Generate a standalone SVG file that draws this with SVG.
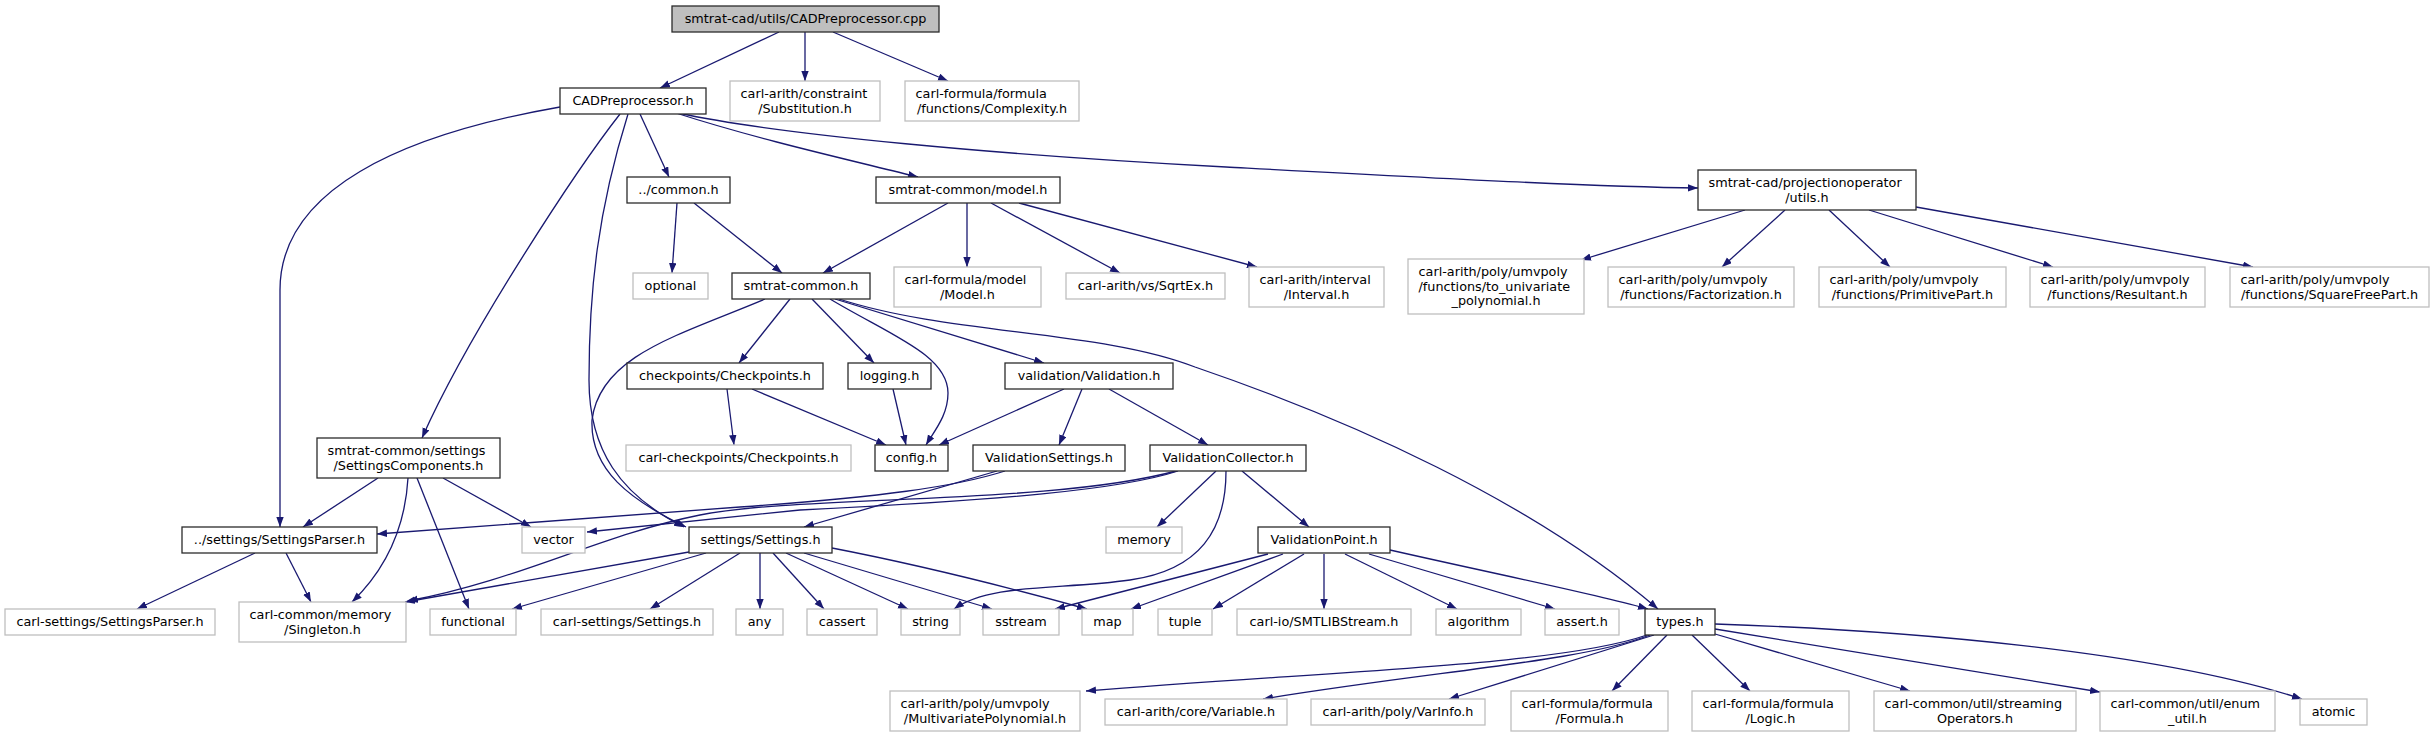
<svg xmlns="http://www.w3.org/2000/svg" width="2435" height="737" viewBox="0 0 2435 737">
<defs>
<style>
rect{fill:#fff;stroke-width:1.3}
.k rect{stroke:#2b2b2b}
.g rect{stroke:#bfbfbf}
.r rect{fill:#bfbfbf;stroke:#2b2b2b}
text{font-family:"DejaVu Sans","Liberation Sans",sans-serif;font-size:12.8px;fill:#000}
.c{text-anchor:middle}
.l{text-anchor:start}
#edges path{fill:none;stroke:#191970;stroke-width:1.3;marker-end:url(#ah)}
</style>
<marker id="ah" markerUnits="userSpaceOnUse" markerWidth="12" markerHeight="9" refX="10" refY="3.7" orient="auto">
<path d="M0,0 L10,3.7 L0,7.4 z" fill="#191970"/>
</marker>
</defs>
<rect x="0" y="0" width="2435" height="737" style="fill:#fff;stroke:none"/>

<g id="edges">
<path d="M779,32 L660,88"/>
<path d="M805,32 L805,81"/>
<path d="M833,32 L948,81"/>
<path d="M560,107 C400,135 280,190 280,290 L280,527"/>
<path d="M620,114 C580,165 470,330 422,438"/>
<path d="M628,114 C598,210 589,290 589,380 C589,450 620,495 684,527"/>
<path d="M640,114 L669,177"/>
<path d="M676,113 C760,140 850,160 918,177"/>
<path d="M678,113 C780,135 1000,155 1226,167 S1600,187 1698,188"/>
<path d="M677,203 L672,273"/>
<path d="M694,203 L782,273"/>
<path d="M948,203 L823,273"/>
<path d="M967,203 L967,267"/>
<path d="M991,203 L1120,273"/>
<path d="M1019,203 L1257,267"/>
<path d="M1745,210 L1581,260"/>
<path d="M1785,210 L1722,267"/>
<path d="M1829,210 L1890,267"/>
<path d="M1869,210 L2053,267"/>
<path d="M1916,207 L2253,267"/>
<path d="M765,299 C680,335 600,355 592,420 C590,470 630,500 686,527"/>
<path d="M790,299 L739,363"/>
<path d="M812,299 L874,363"/>
<path d="M830,299 C890,335 948,355 948,393 C948,415 935,430 926,445"/>
<path d="M835,299 L1044,363"/>
<path d="M839,299 C950,335 1100,330 1195,367 C1350,420 1530,500 1658,609"/>
<path d="M727,389 L734,445"/>
<path d="M752,389 L886,445"/>
<path d="M893,389 L906,445"/>
<path d="M1064,389 L939,445"/>
<path d="M1082,389 L1059,445"/>
<path d="M1109,389 L1208,445"/>
<path d="M378,478 L303,527"/>
<path d="M408,478 C405,530 385,570 352,602"/>
<path d="M417,478 L469,609"/>
<path d="M443,478 L531,527"/>
<path d="M255,553 L137,609"/>
<path d="M286,553 L311,602"/>
<path d="M1005,471 C955,487 880,497 740,507 L377,534"/>
<path d="M997,471 L804,527"/>
<path d="M1178,471 C1120,490 1000,500 800,510 L587,532"/>
<path d="M1176,471 C1050,505 800,495 700,515 C600,535 520,580 408,601"/>
<path d="M1216,471 L1157,527"/>
<path d="M1242,471 L1309,527"/>
<path d="M1226,471 C1226,530 1200,570 1130,580 C1060,590 990,583 954,609"/>
<path d="M689,552 L405,602"/>
<path d="M706,553 L512,609"/>
<path d="M740,553 L650,609"/>
<path d="M760,553 L760,609"/>
<path d="M773,553 L824,609"/>
<path d="M786,553 L908,609"/>
<path d="M804,553 L992,609"/>
<path d="M832,548 C920,565 1000,585 1087,609"/>
<path d="M1268,554 L1055,609"/>
<path d="M1283,554 L1131,609"/>
<path d="M1304,554 L1213,609"/>
<path d="M1324,554 L1324,609"/>
<path d="M1345,554 L1457,609"/>
<path d="M1369,554 L1555,609"/>
<path d="M1390,550 C1500,575 1600,595 1648,609"/>
<path d="M1715,624 C1900,630 2150,650 2302,699"/>
<path d="M1715,629 L2100,692"/>
<path d="M1715,634 L1910,691"/>
<path d="M1692,635 L1750,691"/>
<path d="M1667,635 L1612,691"/>
<path d="M1654,635 L1449,699"/>
<path d="M1650,635 C1580,662 1440,670 1263,699"/>
<path d="M1647,635 C1560,665 1350,670 1086,691"/>
</g>

<g id="n-root" class="r"><rect x="672" y="6" width="267" height="26"/><text class="c" x="805.5" y="23.3">smtrat-cad/utils/CADPreprocessor.cpp</text></g>
<g id="n-cadpreprocessor" class="k"><rect x="560" y="88" width="146" height="26"/><text class="c" x="633" y="105.3">CADPreprocessor.h</text></g>
<g id="n-substitution" class="g"><rect x="730" y="81" width="150" height="40"/><text class="l" x="740.5" y="98">carl-arith/constraint</text><text class="c" x="805" y="112.5">/Substitution.h</text></g>
<g id="n-complexity" class="g"><rect x="905" y="81" width="174" height="40"/><text class="l" x="915.5" y="98">carl-formula/formula</text><text class="c" x="992" y="112.5">/functions/Complexity.h</text></g>
<g id="n-common" class="k"><rect x="627" y="177" width="103" height="26"/><text class="c" x="678.5" y="194.3">../common.h</text></g>
<g id="n-model" class="k"><rect x="876" y="177" width="184" height="26"/><text class="c" x="968" y="194.3">smtrat-common/model.h</text></g>
<g id="n-projutils" class="k"><rect x="1698" y="170" width="218" height="40"/><text class="l" x="1708.5" y="187">smtrat-cad/projectionoperator</text><text class="c" x="1807" y="201.5">/utils.h</text></g>
<g id="n-optional" class="g"><rect x="633" y="273" width="75" height="26"/><text class="c" x="670.5" y="290.3">optional</text></g>
<g id="n-smtratcommon" class="k"><rect x="732" y="273" width="138" height="26"/><text class="c" x="801" y="290.3">smtrat-common.h</text></g>
<g id="n-modelh" class="g"><rect x="894" y="267" width="147" height="40"/><text class="l" x="904.5" y="284">carl-formula/model</text><text class="c" x="967.5" y="298.5">/Model.h</text></g>
<g id="n-sqrtex" class="g"><rect x="1066" y="273" width="159" height="26"/><text class="c" x="1145.5" y="290.3">carl-arith/vs/SqrtEx.h</text></g>
<g id="n-interval" class="g"><rect x="1249" y="267" width="135" height="40"/><text class="l" x="1259.5" y="284">carl-arith/interval</text><text class="c" x="1316.5" y="298.5">/Interval.h</text></g>
<g id="n-touniv" class="g"><rect x="1408" y="259" width="176" height="55"/><text class="l" x="1418.5" y="276.3">carl-arith/poly/umvpoly</text><text class="l" x="1418.5" y="290.8">/functions/to_univariate</text><text class="c" x="1496" y="305.3">_polynomial.h</text></g>
<g id="n-factorization" class="g"><rect x="1608" y="267" width="186" height="40"/><text class="l" x="1618.5" y="284">carl-arith/poly/umvpoly</text><text class="c" x="1701" y="298.5">/functions/Factorization.h</text></g>
<g id="n-primitivepart" class="g"><rect x="1819" y="267" width="187" height="40"/><text class="l" x="1829.5" y="284">carl-arith/poly/umvpoly</text><text class="c" x="1912.5" y="298.5">/functions/PrimitivePart.h</text></g>
<g id="n-resultant" class="g"><rect x="2030" y="267" width="175" height="40"/><text class="l" x="2040.5" y="284">carl-arith/poly/umvpoly</text><text class="c" x="2117.5" y="298.5">/functions/Resultant.h</text></g>
<g id="n-squarefree" class="g"><rect x="2230" y="267" width="199" height="40"/><text class="l" x="2240.5" y="284">carl-arith/poly/umvpoly</text><text class="c" x="2329.5" y="298.5">/functions/SquareFreePart.h</text></g>
<g id="n-checkpoints" class="k"><rect x="627" y="363" width="196" height="26"/><text class="c" x="725" y="380.3">checkpoints/Checkpoints.h</text></g>
<g id="n-logging" class="k"><rect x="848" y="363" width="83" height="26"/><text class="c" x="889.5" y="380.3">logging.h</text></g>
<g id="n-validation" class="k"><rect x="1005" y="363" width="168" height="26"/><text class="c" x="1089" y="380.3">validation/Validation.h</text></g>
<g id="n-settingscomponents" class="k"><rect x="317" y="438" width="183" height="40"/><text class="l" x="327.5" y="455">smtrat-common/settings</text><text class="c" x="408.5" y="469.5">/SettingsComponents.h</text></g>
<g id="n-carlcheckpoints" class="g"><rect x="626" y="445" width="225" height="26"/><text class="c" x="738.5" y="462.3">carl-checkpoints/Checkpoints.h</text></g>
<g id="n-config" class="k"><rect x="875" y="445" width="73" height="26"/><text class="c" x="911.5" y="462.3">config.h</text></g>
<g id="n-validationsettings" class="k"><rect x="973" y="445" width="152" height="26"/><text class="c" x="1049" y="462.3">ValidationSettings.h</text></g>
<g id="n-validationcollector" class="k"><rect x="1150" y="445" width="156" height="26"/><text class="c" x="1228" y="462.3">ValidationCollector.h</text></g>
<g id="n-settingsparser" class="k"><rect x="182" y="527" width="195" height="26"/><text class="c" x="279.5" y="544.3">../settings/SettingsParser.h</text></g>
<g id="n-vector" class="g"><rect x="522" y="527" width="63" height="26"/><text class="c" x="553.5" y="544.3">vector</text></g>
<g id="n-settings" class="k"><rect x="689" y="527" width="143" height="26"/><text class="c" x="760.5" y="544.3">settings/Settings.h</text></g>
<g id="n-memory" class="g"><rect x="1106" y="527" width="76" height="26"/><text class="c" x="1144" y="544.3">memory</text></g>
<g id="n-validationpoint" class="k"><rect x="1258" y="527" width="132" height="26"/><text class="c" x="1324" y="544.3">ValidationPoint.h</text></g>
<g id="n-carlsettingsparser" class="g"><rect x="5" y="609" width="210" height="26"/><text class="c" x="110" y="626.3">carl-settings/SettingsParser.h</text></g>
<g id="n-singleton" class="g"><rect x="239" y="602" width="167" height="40"/><text class="l" x="249.5" y="619">carl-common/memory</text><text class="c" x="322.5" y="633.5">/Singleton.h</text></g>
<g id="n-functional" class="g"><rect x="430" y="609" width="86" height="26"/><text class="c" x="473" y="626.3">functional</text></g>
<g id="n-carlsettings" class="g"><rect x="541" y="609" width="172" height="26"/><text class="c" x="627" y="626.3">carl-settings/Settings.h</text></g>
<g id="n-any" class="g"><rect x="736" y="609" width="47" height="26"/><text class="c" x="759.5" y="626.3">any</text></g>
<g id="n-cassert" class="g"><rect x="807" y="609" width="70" height="26"/><text class="c" x="842" y="626.3">cassert</text></g>
<g id="n-string" class="g"><rect x="901" y="609" width="59" height="26"/><text class="c" x="930.5" y="626.3">string</text></g>
<g id="n-sstream" class="g"><rect x="983" y="609" width="76" height="26"/><text class="c" x="1021" y="626.3">sstream</text></g>
<g id="n-map" class="g"><rect x="1082" y="609" width="51" height="26"/><text class="c" x="1107.5" y="626.3">map</text></g>
<g id="n-tuple" class="g"><rect x="1158" y="609" width="54" height="26"/><text class="c" x="1185" y="626.3">tuple</text></g>
<g id="n-smtlibstream" class="g"><rect x="1237" y="609" width="174" height="26"/><text class="c" x="1324" y="626.3">carl-io/SMTLIBStream.h</text></g>
<g id="n-algorithm" class="g"><rect x="1436" y="609" width="85" height="26"/><text class="c" x="1478.5" y="626.3">algorithm</text></g>
<g id="n-asserth" class="g"><rect x="1545" y="609" width="74" height="26"/><text class="c" x="1582" y="626.3">assert.h</text></g>
<g id="n-types" class="k"><rect x="1645" y="609" width="70" height="26"/><text class="c" x="1680" y="626.3">types.h</text></g>
<g id="n-multivariate" class="g"><rect x="890" y="691" width="190" height="40"/><text class="l" x="900.5" y="708">carl-arith/poly/umvpoly</text><text class="c" x="985" y="722.5">/MultivariatePolynomial.h</text></g>
<g id="n-variable" class="g"><rect x="1105" y="699" width="182" height="26"/><text class="c" x="1196" y="716.3">carl-arith/core/Variable.h</text></g>
<g id="n-varinfo" class="g"><rect x="1311" y="699" width="174" height="26"/><text class="c" x="1398" y="716.3">carl-arith/poly/VarInfo.h</text></g>
<g id="n-formula" class="g"><rect x="1511" y="691" width="157" height="40"/><text class="l" x="1521.5" y="708">carl-formula/formula</text><text class="c" x="1589.5" y="722.5">/Formula.h</text></g>
<g id="n-logic" class="g"><rect x="1692" y="691" width="157" height="40"/><text class="l" x="1702.5" y="708">carl-formula/formula</text><text class="c" x="1770.5" y="722.5">/Logic.h</text></g>
<g id="n-streaming" class="g"><rect x="1874" y="691" width="202" height="40"/><text class="l" x="1884.5" y="708">carl-common/util/streaming</text><text class="c" x="1975" y="722.5">Operators.h</text></g>
<g id="n-enumutil" class="g"><rect x="2100" y="691" width="175" height="40"/><text class="l" x="2110.5" y="708">carl-common/util/enum</text><text class="c" x="2187.5" y="722.5">_util.h</text></g>
<g id="n-atomic" class="g"><rect x="2300" y="699" width="67" height="26"/><text class="c" x="2333.5" y="716.3">atomic</text></g>
</svg>
